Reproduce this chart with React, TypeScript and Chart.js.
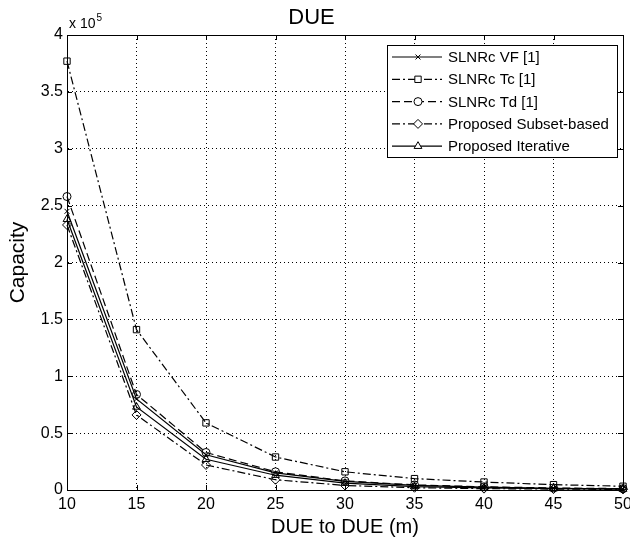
import React, { useEffect, useRef } from "react";
import { Chart, registerables } from "chart.js";
import { drawPoint } from "chart.js/helpers";

Chart.register(...registerables);

const distances = [10, 15, 20, 25, 30, 35, 40, 45, 50];
const slnrVF = [2.45, 0.8, 0.31, 0.15, 0.075, 0.04, 0.025, 0.015, 0.01];
const slnrTc = [3.77, 1.41, 0.59, 0.29, 0.16, 0.1, 0.07, 0.047, 0.033];
const slnrTd = [2.58, 0.84, 0.33, 0.16, 0.08, 0.045, 0.028, 0.018, 0.012];
const subsetBased = [2.33, 0.66, 0.22, 0.09, 0.04, 0.02, 0.012, 0.008, 0.005];
const iterative = [2.38, 0.73, 0.27, 0.13, 0.06, 0.03, 0.018, 0.012, 0.008];
const seriesLabels = [
  "SLNRc VF [1]",
  "SLNRc Tc [1]",
  "SLNRc Td [1]",
  "Proposed Subset-based",
  "Proposed Iterative",
];
const yTicks = [0, 0.5, 1, 1.5, 2, 2.5, 3, 3.5, 4];
const xTicks = [10, 15, 20, 25, 30, 35, 40, 45, 50];

const FONT = "'Liberation Sans', Arial, sans-serif";
const DASHDOT = [8, 3, 2, 3];
const DASHED = [8, 4];

const boxPlugin = {
  id: "matlabBox",
  afterDraw(chart: any) {
    const { ctx, chartArea } = chart;
    const { left, right, top, bottom } = chartArea;
    ctx.save();
    ctx.strokeStyle = "#000";
    ctx.lineWidth = 1;
    ctx.setLineDash([]);
    ctx.strokeRect(left + 0.5, top + 0.5, right - left, bottom - top);
    const xs = chart.scales.x;
    const ys = chart.scales.y;
    const tl = 5;
    ctx.beginPath();
    xTicks.forEach((v) => {
      const px = Math.round(xs.getPixelForValue(v)) + 0.5;
      ctx.moveTo(px, bottom);
      ctx.lineTo(px, bottom - tl);
      ctx.moveTo(px, top);
      ctx.lineTo(px, top + tl);
    });
    yTicks.forEach((v) => {
      const py = Math.round(ys.getPixelForValue(v)) + 0.5;
      ctx.moveTo(left, py);
      ctx.lineTo(left + tl, py);
      ctx.moveTo(right, py);
      ctx.lineTo(right - tl, py);
    });
    ctx.stroke();

    ctx.fillStyle = "#000";
    ctx.textBaseline = "middle";
    ctx.textAlign = "left";
    ctx.font = `14px ${FONT}`;
    ctx.fillText("x 10", left + 2, top - 11);
    const w = ctx.measureText("x 10").width;
    ctx.font = `10px ${FONT}`;
    ctx.fillText("5", left + 3 + w, top - 17);

    const bx = 387, by = 45, bw = 230, bh = 112;
    ctx.fillStyle = "#fff";
    ctx.fillRect(bx, by, bw, bh);
    ctx.strokeStyle = "#000";
    ctx.lineWidth = 1;
    ctx.strokeRect(bx + 0.5, by + 0.5, bw, bh);
    const rowH = 22.3;
    chart.data.datasets.forEach((ds: any, i: number) => {
      const cy = by + 12 + i * rowH;
      ctx.save();
      ctx.strokeStyle = "#000";
      ctx.lineWidth = 1.2;
      ctx.setLineDash(ds.borderDash || []);
      ctx.beginPath();
      ctx.moveTo(bx + 5, cy);
      ctx.lineTo(bx + 55, cy);
      ctx.stroke();
      ctx.setLineDash([]);
      ctx.fillStyle = "#fff";
      ctx.lineWidth = 1;
      drawPoint(
        ctx,
        { pointStyle: ds.pointStyle, radius: ds.pointRadius, borderWidth: 1, rotation: 0 } as any,
        bx + 31,
        cy
      );
      ctx.restore();
      ctx.fillStyle = "#000";
      ctx.font = `15px ${FONT}`;
      ctx.textAlign = "left";
      ctx.textBaseline = "middle";
      ctx.fillText(ds.label, bx + 61, cy + 1);
    });
    ctx.restore();
  },
};

function makeDataset(label: string, data: number[], dash: number[], style: string, r: number) {
  return {
    label,
    data: distances.map((x, i) => ({ x, y: data[i] })),
    borderColor: "#000",
    backgroundColor: "rgba(0,0,0,0)",
    borderWidth: 1.2,
    borderDash: dash,
    pointStyle: style,
    pointRadius: r,
    pointBorderColor: "#000",
    pointBackgroundColor: "rgba(0,0,0,0)",
    pointBorderWidth: 1,
    tension: 0,
    clip: false,
  };
}

export default function App() {
  const ref = useRef<HTMLCanvasElement | null>(null);
  useEffect(() => {
    if (!ref.current) return;
    const chart = new Chart(ref.current, {
      type: "line",
      data: {
        datasets: [
          makeDataset(seriesLabels[0], slnrVF, [], "crossRot", 3.5),
          makeDataset(seriesLabels[1], slnrTc, DASHDOT, "rect", 4.5),
          makeDataset(seriesLabels[2], slnrTd, DASHED, "circle", 4),
          makeDataset(seriesLabels[3], subsetBased, DASHDOT, "rectRot", 4.5),
          makeDataset(seriesLabels[4], iterative, [], "triangle", 4.5),
        ],
      },
      options: {
        animation: false,
        responsive: false,
        maintainAspectRatio: false,
        layout: { padding: { left: 0, right: 7, top: 0, bottom: 0 } },
        plugins: {
          legend: { display: false },
          tooltip: { enabled: false },
          title: {
            display: true,
            text: "DUE",
            color: "#000",
            font: { family: FONT, size: 22, weight: "normal" },
            padding: { top: 5, bottom: 3.6 },
          },
        },
        scales: {
          x: {
            type: "linear",
            min: 10,
            max: 50,
            afterBuildTicks: (s: any) => {
              s.ticks = xTicks.map((v) => ({ value: v }));
            },
            afterFit: (s: any) => {
              s.height = 50;
              s.paddingLeft = 0;
              s.paddingRight = 0;
            },
            ticks: {
              color: "#000",
              font: { family: FONT, size: 16 },
              padding: 5,
              maxRotation: 0,
              autoSkip: false,
            },
            grid: { color: "#000", lineWidth: 1, drawTicks: false },
            border: { display: true, color: "#000", dash: [1, 3] },
            title: {
              display: true,
              text: "DUE to DUE (m)",
              color: "#000",
              font: { family: FONT, size: 20 },
              padding: { top: 0, bottom: 1 },
            },
          },
          y: {
            type: "linear",
            min: 0,
            max: 4,
            afterBuildTicks: (s: any) => {
              s.ticks = yTicks.map((v) => ({ value: v }));
            },
            afterFit: (s: any) => {
              s.width = 67;
              s.paddingTop = 0;
              s.paddingBottom = 0;
            },
            ticks: {
              color: "#000",
              font: { family: FONT, size: 16 },
              padding: 4,
              autoSkip: false,
              callback: (v: any) => String(v),
            },
            grid: { color: "#000", lineWidth: 1, drawTicks: false },
            border: { display: true, color: "#000", dash: [1, 3] },
            title: {
              display: true,
              text: "Capacity",
              color: "#000",
              font: { family: FONT, size: 21 },
              padding: { top: 6, bottom: 0 },
            },
          },
        },
      },
      plugins: [boxPlugin],
    } as any);
    return () => chart.destroy();
  }, []);
  return (
    <div style={{ position: "absolute", left: 0, top: 0, width: 630, height: 540, background: "#fff" }}>
      <canvas ref={ref} width={630} height={540} style={{ display: "block" }} />
    </div>
  );
}
